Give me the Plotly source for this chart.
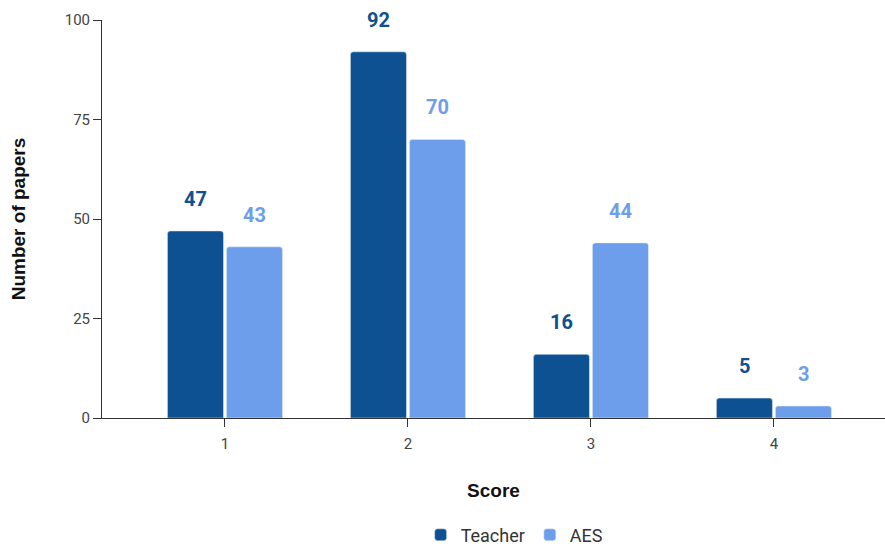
import plotly.graph_objects as go

scores = [1, 2, 3, 4]
teacher = [47, 92, 16, 5]
aes = [43, 70, 44, 3]
y_ticks = [0, 25, 50, 75, 100]

TEACHER_COLOR = "#0e5192"
AES_COLOR = "#6d9eeb"
BAR_GAP = 0.355
GROUP_GAP = 0.05

fig = go.Figure()
fig.add_trace(go.Bar(x=scores, y=teacher, name="Teacher", marker_color=TEACHER_COLOR))
fig.add_trace(go.Bar(x=scores, y=aes, name="AES", marker_color=AES_COLOR))

# value labels centred above each bar of the group
slot = (1 - BAR_GAP) / 2
for series, color, sign in [(teacher, TEACHER_COLOR, -1), (aes, AES_COLOR, 1)]:
    for s, v in zip(scores, series):
        fig.add_annotation(
            x=s + sign * slot / 2, y=v, xref="x", yref="y",
            text=f"<b>{v}</b>", showarrow=False,
            yanchor="middle", yshift=32,
            font=dict(family="Roboto", size=20, color=color),
        )

fig.update_layout(
    width=885, height=546,
    margin=dict(l=102, r=0, t=20, b=128, autoexpand=False),
    paper_bgcolor="white", plot_bgcolor="white",
    barmode="group", bargap=BAR_GAP, bargroupgap=GROUP_GAP,
    barcornerradius=3,
    font=dict(family="Roboto", size=15, color="#444444"),
    showlegend=True,
    legend=dict(
        orientation="h", x=0.527, xanchor="center",
        yref="container", y=0.02, yanchor="middle",
        font=dict(family="Roboto", size=18, color="#333333"),
        itemwidth=30,
    ),
)

fig.update_xaxes(
    range=[0.328, 4.607], tickvals=scores, ticktext=[str(s) for s in scores],
    showgrid=False, zeroline=False, automargin=False,
    showline=True, linecolor="#333333", linewidth=1,
    ticks="outside", ticklen=8, tickcolor="#333333", ticklabelstandoff=4,
    tickfont=dict(family="Roboto", size=15, color="#444444"),
    title=dict(text="<b>Score</b>", standoff=31,
               font=dict(family="Liberation Sans", size=19, color="#111111")),
)
fig.update_yaxes(
    range=[0, 100], tickvals=y_ticks,
    showgrid=False, zeroline=False, automargin=False,
    showline=True, linecolor="#333333", linewidth=1,
    ticks="outside", ticklen=8, tickcolor="#333333",
    tickfont=dict(family="Roboto", size=15, color="#444444"),
    title=dict(text="<b>Number of papers</b>", standoff=34,
               font=dict(family="Liberation Sans", size=19, color="#111111")),
)

fig.write_html("out.html")
